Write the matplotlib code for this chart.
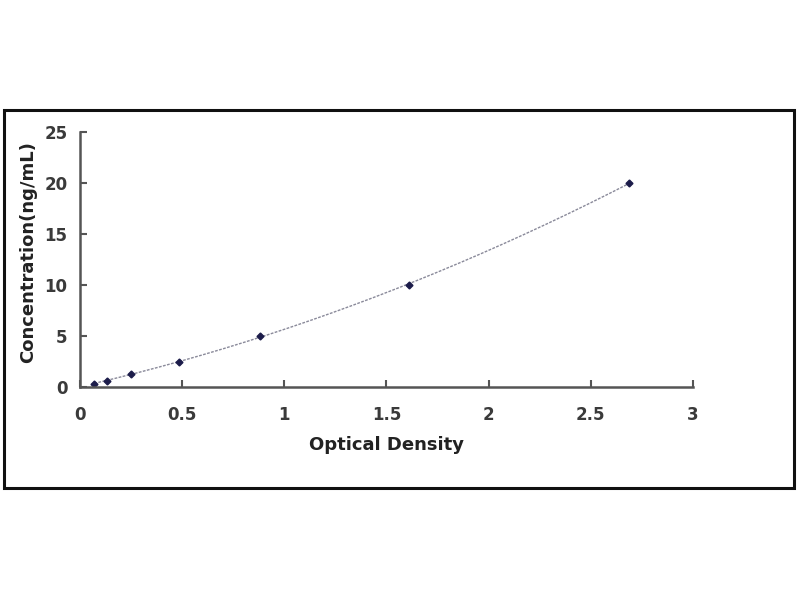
import matplotlib
matplotlib.use("Agg")
import matplotlib.pyplot as plt
import numpy as np
from matplotlib.patches import Rectangle

# standard curve readings
od = [0.07, 0.13, 0.25, 0.485, 0.88, 1.61, 2.69]
conc = [0.31, 0.63, 1.25, 2.5, 5, 10, 20]
x_ticks = [0, 0.5, 1, 1.5, 2, 2.5, 3]
x_tick_labels = ["0", "0.5", "1", "1.5", "2", "2.5", "3"]
y_ticks = [0, 5, 10, 15, 20, 25]

plt.rcParams["font.family"] = ["DejaVu Sans"]

fig = plt.figure(figsize=(8, 6), dpi=100)
fig.patch.set_facecolor("white")

# outer frame
fig.patches.append(Rectangle((0.005, 0.187), 0.987, 0.63, transform=fig.transFigure,
                             fill=False, edgecolor="#111111", linewidth=2.2))

ax = fig.add_axes([0.1, 0.355, 0.766, 0.425])

coef = np.polyfit(od, conc, 2)
xs = np.linspace(min(od), max(od), 200)
ax.plot(xs, np.polyval(coef, xs), color="#8a8a9a", linewidth=1.0, linestyle=(0, (2, 1)))
ax.plot(od, conc, linestyle="none", marker="D", markersize=3.5, color="#1c1c4a")

ax.set_xlim(0, 3)
ax.set_ylim(0, 25)
ax.set_xticks(x_ticks)
ax.set_xticklabels(x_tick_labels)
ax.set_yticks(y_ticks)

for side in ("top", "right"):
    ax.spines[side].set_visible(False)
for side in ("left", "bottom"):
    ax.spines[side].set_color("#555555")
    ax.spines[side].set_linewidth(1.8)

ax.tick_params(direction="in", length=5, width=1.5, color="#555555",
               labelsize=12, labelcolor="#3a3a3a")
ax.tick_params(axis="x", pad=14)
ax.tick_params(axis="y", pad=9)
for lab in ax.get_xticklabels() + ax.get_yticklabels():
    lab.set_fontweight("bold")

ax.set_xlabel("Optical Density", fontsize=13, fontweight="bold", color="#222222", labelpad=8)
ax.set_ylabel("Concentration(ng/mL)", fontsize=13, fontweight="bold", color="#222222")
ax.yaxis.set_label_coords(-0.07, 0.53)

fig.savefig("out.png", dpi=100, facecolor="white")
